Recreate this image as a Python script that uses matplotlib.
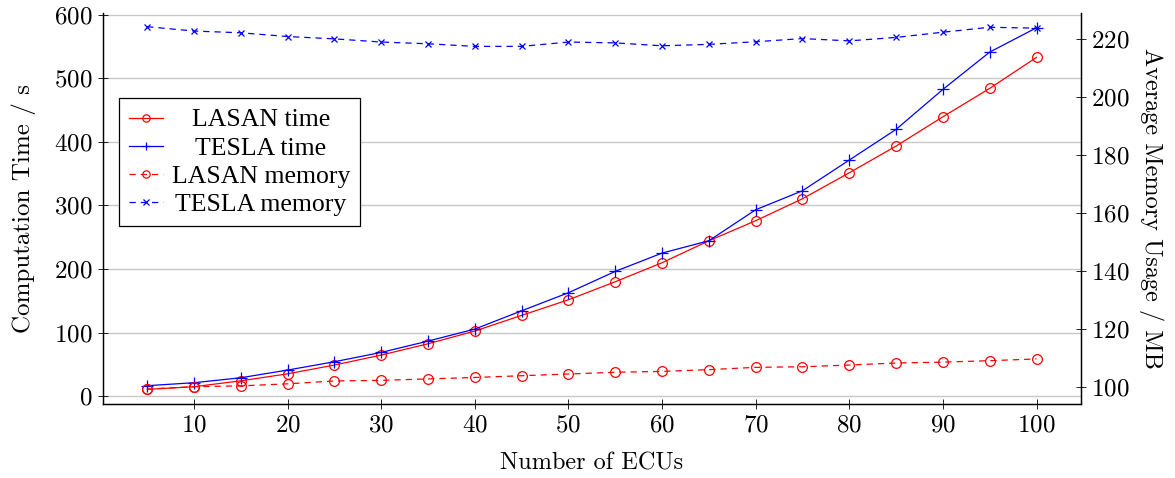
import matplotlib
matplotlib.use('Agg')
import matplotlib.pyplot as plt
from matplotlib.transforms import Affine2D

plt.rcParams['font.family'] = ['cmr10', 'DejaVu Serif']
plt.rcParams['axes.formatter.use_mathtext'] = True
plt.rcParams['mathtext.fontset'] = 'cm'

ecus = [5, 10, 15, 20, 25, 30, 35, 40, 45, 50, 55, 60, 65, 70, 75, 80, 85, 90, 95, 100]
lasan_time = [10.5, 14.7, 24, 35, 48.8, 64.5, 82.3, 102.3, 127, 151.5,
              179.9, 209.8, 244.4, 275.9, 310.5, 351.4, 393.4, 439.5, 484.2, 533]
tesla_time = [16.3, 21, 28.8, 40.9, 54, 68.7, 86.5, 105.4, 134.2, 162.6,
              196.2, 225, 244.4, 293.2, 323.1, 371.4, 419.7, 482.6, 541.3, 579.6]
lasan_mem = [99.2, 100.0, 100.3, 101.0, 102.0, 102.2, 102.7, 103.2, 103.8, 104.4,
             105.0, 105.3, 105.9, 106.7, 106.9, 107.5, 108.2, 108.5, 109.0, 109.6]
tesla_mem = [224.4, 222.9, 222.3, 221.0, 220.2, 219.1, 218.5, 217.6, 217.6, 219.1,
             218.8, 217.8, 218.3, 219.2, 220.3, 219.5, 220.7, 222.5, 224.2, 223.9]

x_ticks = [10, 20, 30, 40, 50, 60, 70, 80, 90, 100]
time_ticks = [0, 100, 200, 300, 400, 500, 600]
mem_ticks = [100, 120, 140, 160, 180, 200, 220]

fig = plt.figure(figsize=(11.75, 4.78), dpi=100)
ax = fig.add_axes([0.0874, 0.154, 0.8326, 0.818])
ax2 = ax.twinx()

lw = 0.9
dash = (0, (5, 4))
l1, = ax.plot(ecus, lasan_time, color='red', lw=lw, marker='o', ms=7,
              mfc='none', mec='red', mew=0.9, label='LASAN time')
l2, = ax.plot(ecus, tesla_time, color='blue', lw=lw, marker='+', ms=8,
              mew=0.9, label='TESLA time')
l3, = ax2.plot(ecus, lasan_mem, color='red', lw=lw, ls=dash, marker='o', ms=7,
               mfc='none', mec='red', mew=0.9, label='LASAN memory')
l4, = ax2.plot(ecus, tesla_mem, color='blue', lw=lw, ls=dash, marker='x', ms=5,
               mew=0.9, label='TESLA memory')

ax.set_xlim(0.25, 104.75)
ax.set_ylim(-13.1, 602.2)
ax2.set_ylim(93.9, 229.0)
ax.set_xticks(x_ticks)
ax.set_yticks(time_ticks)
ax2.set_yticks(mem_ticks)

ax.grid(axis='y', color='#c8c8c8', lw=1.0)
ax.set_axisbelow(True)
for a in (ax, ax2):
    a.spines['top'].set_visible(False)
    for s in a.spines.values():
        s.set_linewidth(0.9)
    a.tick_params(direction='inout', length=7, width=0.6, labelsize=18, pad=4)

ax.set_xlabel('Number of ECUs', fontsize=17.5, labelpad=11)
ax.set_ylabel('Computation Time / s', fontsize=18, labelpad=13)
ax2.set_ylabel('Average Memory Usage / MB', fontsize=17.5, rotation=270, labelpad=24)

leg = ax2.legend(handles=[l1, l2, l3, l4], loc='upper left',
                 bbox_to_anchor=(0.0167, 0.783), borderaxespad=0,
                 prop={'family': 'Liberation Serif', 'size': 18.5},
                 fancybox=False, framealpha=1, edgecolor='black',
                 handlelength=1.3, handletextpad=0.35, labelspacing=0.2,
                 borderpad=0.4, markerscale=0.75)
leg.get_frame().set_linewidth(0.9)

# centre the legend labels like pgfplots does
fig.canvas.draw()
r = fig.canvas.get_renderer()
widths = [t.get_window_extent(r).width for t in leg.get_texts()]
wmax = max(widths)
for t, w in zip(leg.get_texts(), widths):
    t.set_transform(t.get_transform() + Affine2D().translate((wmax - w) / 2, 0))

fig.savefig('out.png', dpi=100)
